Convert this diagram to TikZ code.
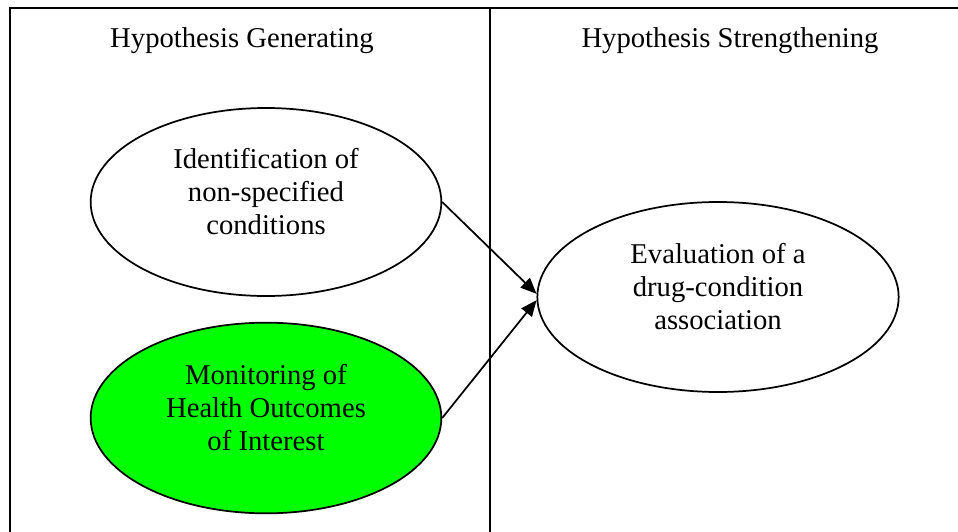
\documentclass[tikz,border=0pt]{standalone}
\usepackage{fontspec}
\setmainfont{Liberation Serif}
\usetikzlibrary{shapes.geometric, arrows.meta}

\newcommand{\ovaltext}[1]{\raisebox{5.5pt}[\height][\depth]{\begin{tabular}{@{}c@{}}#1\end{tabular}}}

\begin{document}
\begin{tikzpicture}[x=0.75pt, y=-0.75pt,
    oval/.style = {draw, ellipse, line width=1.3pt, inner sep=0pt,
      font=\fontsize{21.5}{25}\selectfont},
    head/.style = {anchor=base, font=\fontsize{21.5}{25}\selectfont},
    link/.style = {line width=1.3pt, -{Triangle[length=12pt, width=10pt]}}]
    \useasboundingbox (0, 0) rectangle (958, 532);
    % frame
    \draw[line width=1.9pt] (10, 532) -- (10, 8) -- (958, 8);
    \draw[line width=1.9pt] (490, 8) -- (490, 532);
    % column heads
    \node[head] (gen) at (242, 47) {Hypothesis Generating};
    \node[head] (str) at (730, 47) {Hypothesis Strengthening};
    % ovals
    \node[oval, minimum width=263pt, minimum height=141pt] (ident) at (266, 202)
      {\ovaltext{Identification of\\non-specified\\conditions}};
    \node[oval, fill=green, minimum width=263pt, minimum height=143pt] (monit) at (266, 418)
      {\ovaltext{Monitoring of\\Health Outcomes\\of Interest}};
    \node[oval, minimum width=271pt, minimum height=142.5pt] (eval) at (718, 297)
      {\ovaltext{Evaluation of a\\drug-condition\\association}};
    % arrows
    \draw[link] (ident.east) -- (eval.179);
    \draw[link] (monit.east) -- (eval.181);
\end{tikzpicture}
\end{document}
